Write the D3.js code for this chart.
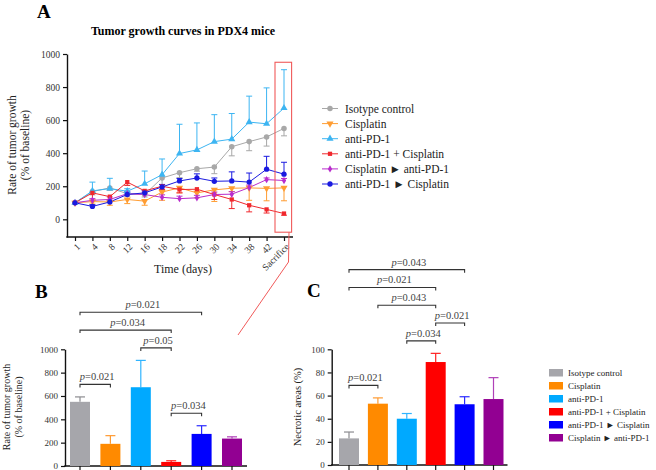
<!DOCTYPE html>
<html><head><meta charset="utf-8">
<script src="https://cdn.jsdelivr.net/npm/d3@7/dist/d3.min.js"></script>
<style>
body{margin:0;background:#fff}
svg text{font-family:"Liberation Serif","Times New Roman","DejaVu Serif",serif}
</style>
</head><body><svg id="c" width="656" height="470"></svg>
<script>
// ---------- DATA ----------
const days = ["1","4","8","12","16","18","22","26","30","34","38","42","Sacrifice"];
const seriesNames = ["Isotype control","Cisplatin","anti-PD-1","anti-PD-1 + Cisplatin","Cisplatin \u25BA anti-PD-1","anti-PD-1 \u25BA Cisplatin"];
const isotype      = [100,168,190,155,150,250,282,306,316,439,470,498,550];
const isotypeErr   = [0,20,15,15,15,40,30,15,40,55,55,55,45];
const cisplatin    = [100,107,105,120,110,165,190,160,178,188,190,187,190];
const cisplatinErr = [0,15,20,25,25,50,30,30,70,20,75,75,78];
const antiPD1      = [100,172,186,170,215,270,398,420,470,485,588,578,673];
const antiPD1Err   = [0,53,62,15,77,95,177,163,163,155,157,217,232];
const combo        = [100,160,137,225,172,200,180,182,150,120,85,60,35];
const comboErr     = [0,45,30,20,15,20,20,15,30,55,40,22,10];
const cisThenAnti    = [100,115,120,155,150,133,125,130,150,152,192,240,235];
const cisThenAntiErr = [0,10,15,15,15,15,15,15,15,15,15,10,12];
const antiThenCis    = [100,78,105,150,160,196,232,250,230,232,225,303,273];
const antiThenCisErr = [0,10,10,15,15,15,15,25,20,55,55,78,72];

const barGroups = ["Isotype control","Cisplatin","anti-PD-1","anti-PD-1 + Cisplatin","anti-PD-1 \u25BA Cisplatin","Cisplatin \u25BA anti-PD-1"];
const growthAtSacrifice    = [550,190,675,35,275,235];
const growthAtSacrificeErr = [42,70,230,10,70,15];
const necroticAreas    = [23,53,40,89,52.5,57];
const necroticAreasErr = [5.5,5,4.5,7.5,6.5,18.5];

const growthComparisons = [[0,1,"0.021"],[3,4,"0.034"],[2,3,"0.05"],[0,3,"0.034"],[0,4,"0.021"]];
const necroticComparisons = [[0,1,"0.021"],[2,3,"0.034"],[3,4,"0.021"],[1,3,"0.043"],[0,3,"0.021"],[0,4,"0.043"]];

// ---------- STYLES ----------
const lineColors = ["#a8a8a8","#ff9d33","#3db5f2","#f0282d","#b92ccc","#1a1ae0"];
const barColors  = ["#a6a6ab","#ff8a00","#00a9ff","#ff0000","#0000ff","#920092"];
const barErrColors = ["#8c8c90","#ff9a30","#30b4ff","#ff2020","#2a2aff","#b040b8"];
const seriesVals = [isotype,cisplatin,antiPD1,combo,cisThenAnti,antiThenCis];
const seriesErrs = [isotypeErr,cisplatinErr,antiPD1Err,comboErr,cisThenAntiErr,antiThenCisErr];
const errDir = [-1,-1,1,-1,1,1];
const symbols = [d3.symbolCircle,"down",d3.symbolTriangle,d3.symbolSquare,d3.symbolDiamond,d3.symbolCircle];
const symSizes = [24,22,22,18,16,22];

const svg = d3.select("#c");
const tickColor = "#333";
const fmt = d3.format("d");

function symPath(i){
  const s = symbols[i];
  if (s === "down") return d3.symbol(d3.symbolTriangle, symSizes[i])();
  return d3.symbol(s, symSizes[i])();
}
function symTransform(i,x,y){
  return symbols[i]==="down" ? `translate(${x},${y}) rotate(180)` : `translate(${x},${y})`;
}
function styleAxis(g, fs){
  g.selectAll("path.domain").attr("stroke","#111").attr("stroke-width",1.4);
  g.selectAll(".tick line").attr("stroke","#111").attr("stroke-width",1.2);
  g.selectAll(".tick text").attr("fill",tickColor).style("font-size",fs+"px");
}

// ---------- PANEL A ----------
svg.append("text").attr("x",37).attr("y",18).text("A")
  .style("font-size","19px").style("font-weight","bold");
svg.append("text").attr("x",183).attr("y",35).attr("text-anchor","middle")
  .text("Tumor growth curves in PDX4 mice").style("font-size","12px").style("font-weight","bold");

const xA = d3.scalePoint().domain(days).range([75,284]);
const yA = d3.scaleLinear().domain([-107,1000]).range([237,54]);

const gyA = svg.append("g").attr("transform","translate(67,0)")
  .call(d3.axisLeft(yA).tickValues([0,200,400,600,800,1000]).tickFormat(fmt).tickSize(4).tickSizeOuter(0));
styleAxis(gyA,9.5);
const gxA = svg.append("g").attr("transform","translate(0,237)")
  .call(d3.axisBottom(xA).tickSize(4).tickSizeOuter(0));
gxA.select("path.domain").remove();
gxA.append("line").attr("x1",66.3).attr("x2",293).attr("stroke","#111").attr("stroke-width",1.4);
styleAxis(gxA,9.5);
gxA.selectAll(".tick text").attr("y",0).attr("dy","0.35em").attr("text-anchor","end")
  .attr("transform","translate(3,8) rotate(-45)");

svg.append("text").attr("x",183).attr("y",273).attr("text-anchor","middle")
  .text("Time (days)").style("font-size","12px").attr("fill","#222");
const ylabA = svg.append("text").attr("transform","translate(16,145) rotate(-90)")
  .attr("text-anchor","middle").style("font-size","11.5px").attr("fill","#222");
ylabA.append("tspan").attr("x",0).attr("y",0).text("Rate of tumor growth");
ylabA.append("tspan").attr("x",0).attr("y",13).text("(% of baseline)");

// error bars
seriesVals.forEach((vals,si)=>{
  const g = svg.append("g").attr("stroke",lineColors[si]).attr("stroke-width",1);
  vals.forEach((v,k)=>{
    const e = seriesErrs[si][k]; if(!e) return;
    const x = xA(days[k]), y0 = yA(v), y1 = yA(v + errDir[si]*e);
    g.append("line").attr("x1",x).attr("x2",x).attr("y1",y0).attr("y2",y1);
    g.append("line").attr("x1",x-3).attr("x2",x+3).attr("y1",y1).attr("y2",y1);
  });
});
// lines
const lineGen = d3.line().x((d,k)=>xA(days[k])).y(d=>yA(d));
seriesVals.forEach((vals,si)=>{
  svg.append("path").attr("d",lineGen(vals)).attr("fill","none")
    .attr("stroke",lineColors[si]).attr("stroke-width",1);
});
// markers
seriesVals.forEach((vals,si)=>{
  svg.append("g").selectAll("path").data(vals).join("path")
    .attr("d",symPath(si)).attr("transform",(d,k)=>symTransform(si,xA(days[k]),yA(d)))
    .attr("fill",lineColors[si]);
});
// legend A
seriesNames.forEach((nm,si)=>{
  const y = 108.5 + si*15.1;
  const g = svg.append("g");
  g.append("line").attr("x1",322).attr("x2",338).attr("y1",y).attr("y2",y).attr("stroke",lineColors[si]).attr("stroke-width",1);
  g.append("path").attr("d",symPath(si)).attr("transform",symTransform(si,330,y)).attr("fill",lineColors[si]);
  g.append("text").attr("x",345).attr("y",y).attr("dy","0.35em").text(nm).style("font-size","11.5px").attr("fill","#222");
});
// highlight box and connector
const xs = xA("Sacrifice");
svg.append("rect").attr("x",xs-9).attr("y",yA(950)).attr("width",16.6).attr("height",yA(-78)-yA(950))
  .attr("fill","none").attr("stroke","#f05a5a").attr("stroke-width",1.1);
svg.append("polyline").attr("points",`${xs+5},${yA(-78)} ${xs+4.5},262 238,335`)
  .attr("fill","none").attr("stroke","#f05a5a").attr("stroke-width",1);

// ---------- bracket helper ----------
function drawBrackets(comps, xs, ys, vals, errs){
  const placed = [];
  comps.forEach(([a,b,p])=>{
    let top = Infinity;
    for(let k=a;k<=b;k++) top = Math.min(top, ys(vals[k]+errs[k]));
    let y = top - 12.5;
    placed.forEach(o=>{ if(!(b<o.a || a>o.b)) y = Math.min(y, o.y - 17.8); });
    placed.push({a,b,y});
    const x1 = xs(barGroups[a]), x2 = xs(barGroups[b]);
    svg.append("path").attr("d",`M${x1},${y+3}V${y}H${x2}V${y+3}`)
      .attr("fill","none").attr("stroke","#333").attr("stroke-width",1.1);
    const t = svg.append("text").attr("x",(x1+x2)/2+2).attr("y",y-4).attr("text-anchor","middle")
      .style("font-size","10.5px").attr("fill","#444");
    t.append("tspan").text("p").style("font-style","italic");
    t.append("tspan").text("=" + p);
  });
}

// ---------- PANEL B ----------
svg.append("text").attr("x",35).attr("y",298).text("B").style("font-size","19px").style("font-weight","bold");
const xB = d3.scalePoint().domain(barGroups).range([80,232]);
const yB = d3.scaleLinear().domain([0,1000]).range([466,349.3]);
const gyB = svg.append("g").attr("transform","translate(65,0)")
  .call(d3.axisLeft(yB).tickValues([0,200,400,600,800,1000]).tickFormat(fmt).tickSize(4).tickSizeOuter(0));
styleAxis(gyB,9);
svg.append("line").attr("x1",64.3).attr("x2",247).attr("y1",466).attr("y2",466).attr("stroke","#111").attr("stroke-width",1.4);
svg.append("g").selectAll("line").data(barGroups).join("line")
  .attr("x1",d=>xB(d)).attr("x2",d=>xB(d)).attr("y1",466).attr("y2",471).attr("stroke","#111").attr("stroke-width",1.2);
const ylabB = svg.append("text").attr("transform","translate(10,407) rotate(-90)")
  .attr("text-anchor","middle").style("font-size","10px").attr("fill","#222");
ylabB.append("tspan").attr("x",0).attr("y",0).text("Rate of tumor growth");
ylabB.append("tspan").attr("x",0).attr("y",12).text("(% of baseline)");
// error bars B
barGroups.forEach((g,k)=>{
  const x = xB(g), y1 = yB(growthAtSacrifice[k]+growthAtSacrificeErr[k]);
  svg.append("line").attr("x1",x).attr("x2",x).attr("y1",yB(growthAtSacrifice[k])).attr("y2",y1).attr("stroke",barErrColors[k]).attr("stroke-width",1.2);
  svg.append("line").attr("x1",x-5).attr("x2",x+5).attr("y1",y1).attr("y2",y1).attr("stroke",barErrColors[k]).attr("stroke-width",1.2);
});
svg.append("g").selectAll("rect").data(growthAtSacrifice).join("rect")
  .attr("x",(d,k)=>xB(barGroups[k])-10).attr("width",20)
  .attr("y",d=>yB(d)).attr("height",d=>yB(0)-yB(d)).attr("fill",(d,k)=>barColors[k]);
drawBrackets(growthComparisons, xB, yB, growthAtSacrifice, growthAtSacrificeErr);

// ---------- PANEL C ----------
svg.append("text").attr("x",307).attr("y",297).text("C").style("font-size","19px").style("font-weight","bold");
const xC = d3.scalePoint().domain(barGroups).range([349,493.5]);
const yC = d3.scaleLinear().domain([0,100]).range([465,349.3]);
const gyC = svg.append("g").attr("transform","translate(331.7,0)")
  .call(d3.axisLeft(yC).tickValues([0,20,40,60,80,100]).tickFormat(fmt).tickSize(4).tickSizeOuter(0));
styleAxis(gyC,9);
svg.append("line").attr("x1",331).attr("x2",507.5).attr("y1",465).attr("y2",465).attr("stroke","#111").attr("stroke-width",1.4);
svg.append("g").selectAll("line").data(barGroups).join("line")
  .attr("x1",d=>xC(d)).attr("x2",d=>xC(d)).attr("y1",465).attr("y2",471).attr("stroke","#111").attr("stroke-width",1.2);
svg.append("text").attr("transform","translate(301,407) rotate(-90)").attr("text-anchor","middle")
  .style("font-size","10.5px").attr("fill","#222").text("Necrotic areas (%)");
barGroups.forEach((g,k)=>{
  const x = xC(g), y1 = yC(necroticAreas[k]+necroticAreasErr[k]);
  svg.append("line").attr("x1",x).attr("x2",x).attr("y1",yC(necroticAreas[k])).attr("y2",y1).attr("stroke",barErrColors[k]).attr("stroke-width",1.2);
  svg.append("line").attr("x1",x-5).attr("x2",x+5).attr("y1",y1).attr("y2",y1).attr("stroke",barErrColors[k]).attr("stroke-width",1.2);
});
svg.append("g").selectAll("rect").data(necroticAreas).join("rect")
  .attr("x",(d,k)=>xC(barGroups[k])-10).attr("width",20)
  .attr("y",d=>yC(d)).attr("height",d=>yC(0)-yC(d)).attr("fill",(d,k)=>barColors[k]);
drawBrackets(necroticComparisons, xC, yC, necroticAreas, necroticAreasErr);

// legend C
barGroups.forEach((nm,k)=>{
  const y = 372.5 + k*13;
  svg.append("rect").attr("x",549).attr("y",y-3.5).attr("width",14).attr("height",7.5).attr("fill",barColors[k]);
  svg.append("text").attr("x",568).attr("y",y).attr("dy","0.35em").text(nm).style("font-size","9px").attr("fill","#222");
});
</script>
</body></html>
